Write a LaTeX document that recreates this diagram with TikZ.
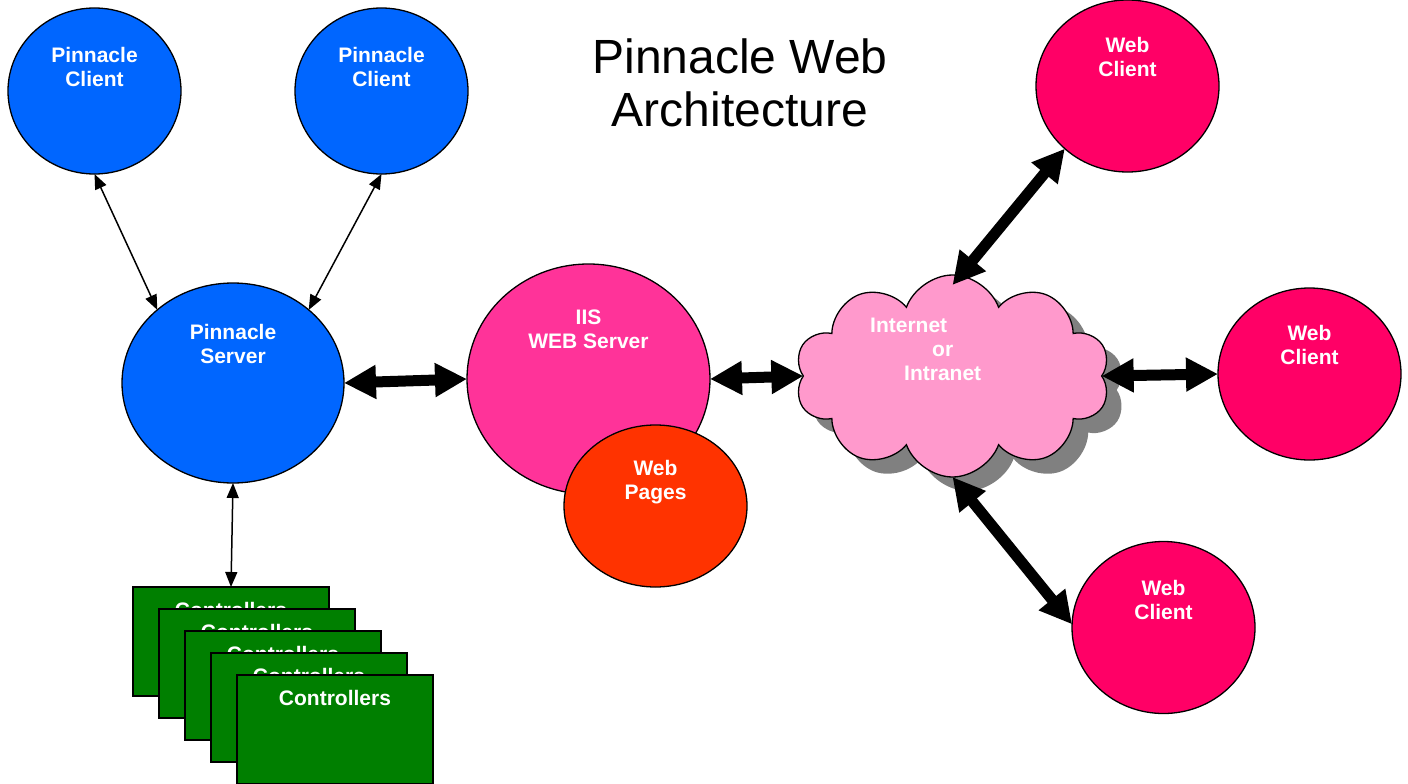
\documentclass[tikz,border=0pt]{standalone}
\usepackage{fontspec}
\setmainfont{Liberation Sans}
\usetikzlibrary{arrows.meta,shapes.geometric,shapes.symbols}
\definecolor{pblue}{HTML}{0066FF}
\definecolor{iispink}{HTML}{FF3399}
\definecolor{pagered}{HTML}{FF3300}
\definecolor{wcpink}{HTML}{FF0066}
\definecolor{cloudpink}{HTML}{FF99CC}
\definecolor{shadowgray}{HTML}{808080}
\definecolor{ctlgreen}{HTML}{007F00}
\begin{document}
\begin{tikzpicture}[x=1pt,y=-1pt,
  blob/.style={ellipse, draw=black, line width=1.3pt, inner sep=0pt, outer sep=0pt},
  lbl/.style={text=white, font=\fontsize{21}{24}\selectfont\bfseries, align=center, inner sep=0pt},
  thinarrow/.style={line width=1.5pt, {Triangle[length=15pt,width=12pt]}-{Triangle[length=15pt,width=12pt]}},
  fatarrow/.style={line width=11pt, {Triangle[length=32pt,width=32pt]}-{Triangle[length=32pt,width=32pt]}},
  ctl/.style={rectangle, draw=black, line width=1.3pt, fill=ctlgreen, minimum width=196pt, minimum height=109pt, inner sep=0pt, outer sep=0pt,
    label={[lbl,yshift=31.5pt]center:Controllers}},
  cloudshape/.style={cloud, cloud puffs=10, cloud puff arc=140, aspect=1.55, minimum width=315pt, minimum height=202pt, inner sep=0pt, outer sep=0pt},
]
\useasboundingbox (0,0) rectangle (1408,784);

% title
\node[font=\fontsize{48}{53}\selectfont, align=center] (title) at (740,83) {Pinnacle Web\\Architecture};

% pinnacle side
\node[blob, fill=pblue, minimum width=173pt, minimum height=166pt,
  label={[lbl,yshift=24pt]center:{Pinnacle\\Client}}] (c1) at (94.5,91) {};
\node[blob, fill=pblue, minimum width=173pt, minimum height=166pt,
  label={[lbl,yshift=24pt]center:{Pinnacle\\Client}}] (c2) at (381.5,91) {};
\node[blob, fill=pblue, minimum width=222pt, minimum height=200pt,
  label={[lbl,yshift=39pt]center:{Pinnacle\\Server}}] (srv) at (233,383) {};

% controllers stack
\node[ctl] (ctl1) at (231,641.5) {};
\node[ctl] (ctl2) at (257,663.5) {};
\node[ctl] (ctl3) at (283,685.5) {};
\node[ctl] (ctl4) at (309,707.5) {};
\node[ctl] (ctl5) at (335,729.5) {};

% IIS and web pages
\node[blob, fill=iispink, minimum width=243pt, minimum height=230pt,
  label={[lbl,yshift=49.5pt]center:{IIS\\WEB Server}}] (iis) at (588.5,379) {};
\node[blob, fill=pagered, minimum width=183pt, minimum height=162pt,
  label={[lbl,yshift=24pt]center:{Web\\Pages}}] (pages) at (655.5,506) {};

% cloud
\node[cloudshape, fill=shadowgray] (netshadow) at (967.5,390) {};
\node[cloudshape, draw=black, line width=1.3pt, fill=cloudpink] (net) at (952.5,376) {};
\node[lbl, anchor=north west, align=left] (nettext) at (870,318)
  {Internet\\\hspace*{62pt}or\\\hspace*{34pt}Intranet};

% web clients
\node[blob, fill=wcpink, minimum width=183pt, minimum height=172pt,
  label={[lbl,yshift=29pt]center:{Web\\Client}}] (wc1) at (1127.5,86) {};
\node[blob, fill=wcpink, minimum width=183pt, minimum height=172pt,
  label={[lbl,yshift=29pt]center:{Web\\Client}}] (wc2) at (1309.5,374) {};
\node[blob, fill=wcpink, minimum width=183pt, minimum height=172pt,
  label={[lbl,yshift=28pt]center:{Web\\Client}}] (wc3) at (1163.5,627.5) {};

% connectors
\draw[thinarrow] (c1.south) -- (srv.136);
\draw[thinarrow] (c2.south) -- (srv.44);
\draw[thinarrow] (srv.south) -- (ctl1.north);
\draw[fatarrow] (srv.east) -- (iis.west);
\draw[fatarrow] (iis.east) -- (net.west);
\draw[fatarrow] ([yshift=-10pt]net.north) -- (wc1.225);
\draw[fatarrow] (net.east) -- (wc2.west);
\draw[fatarrow] (net.south) -- (wc3.178);
\end{tikzpicture}
\end{document}
